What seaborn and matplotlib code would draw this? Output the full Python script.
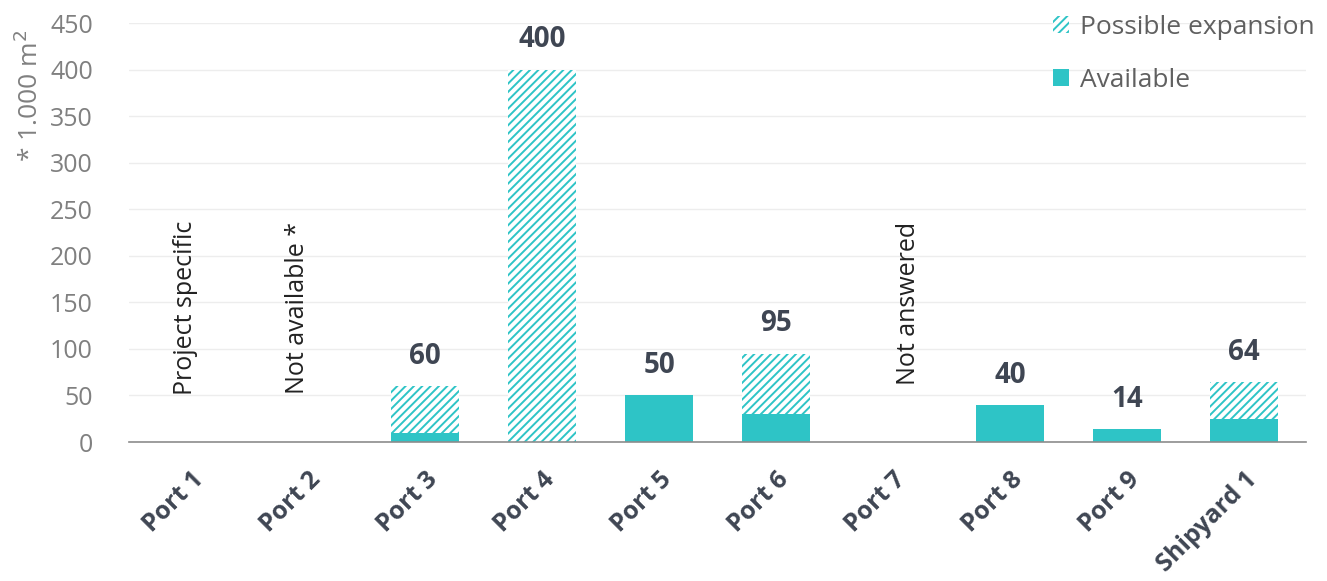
import matplotlib
matplotlib.use("Agg")
from matplotlib import pyplot as plt
from matplotlib.patches import Patch
import seaborn as sns
import pandas as pd

ports = ["Port 1", "Port 2", "Port 3", "Port 4", "Port 5", "Port 6",
         "Port 7", "Port 8", "Port 9", "Shipyard 1"]
available = [0, 0, 10, 0, 50, 30, 0, 40, 14, 25]
expansion = [0, 0, 50, 400, 0, 65, 0, 0, 0, 39]
notes = {"Port 1": "Project specific", "Port 2": "Not available *", "Port 7": "Not answered"}

TEAL = "#2EC4C6"
GRAY_TXT = "#808080"
DARK_TXT = "#3F4653"

df = pd.DataFrame({"port": ports, "available": available, "expansion": expansion})
df["total"] = df["available"] + df["expansion"]

sns.set_style("white")
plt.rcParams["font.family"] = ["Open Sans", "DejaVu Sans"]
plt.rcParams["hatch.linewidth"] = 1.4

fig = plt.figure(figsize=(13.27, 5.81), dpi=100)
ax = fig.add_axes([0.0972, 0.2392, 0.887, 0.721])

# total (hatched) first, then available on top of it
sns.barplot(data=df, x="port", y="total", ax=ax, color="white", width=0.58,
            edgecolor=TEAL, linewidth=0, hatch="////", saturation=1)
sns.barplot(data=df, x="port", y="available", ax=ax, color=TEAL, width=0.58,
            linewidth=0, saturation=1)

# note positions (x shift, bottom y) as laid out in the source
note_pos = {"Port 1": (-0.05, 50), "Port 2": (-0.09, 52), "Port 7": (0.13, 61)}
for i, row in df.iterrows():
    if row["total"] > 0:
        ax.annotate(f"{int(row['total'])}", (i, row["total"]), xytext=(0, 11),
                    textcoords="offset points", ha="center", va="bottom",
                    fontsize=20, fontweight="bold", color=DARK_TXT)
    if row["port"] in notes:
        dx, yb = note_pos[row["port"]]
        ax.text(i + dx, yb, notes[row["port"]], rotation=90, ha="center",
                va="bottom", fontsize=18, color="#222222")

ax.set_ylim(0, 450)
ax.set_xlim(-0.53, 9.53)
ax.set_yticks(range(0, 451, 50))
ax.grid(axis="y", color="#EDEDED", linewidth=1)
ax.set_axisbelow(True)
sns.despine(ax=ax, left=True)
ax.spines["bottom"].set_color("#8C8C8C")
ax.spines["bottom"].set_linewidth(1.2)
ax.tick_params(axis="y", length=0, labelsize=18, labelcolor=GRAY_TXT, pad=26)
ax.tick_params(axis="x", length=0, pad=18)
ax.set_xlabel("")
ax.set_ylabel("")
fig.text(30 / 1327, 1 - 30 / 581, "* 1.000 m$^2$", rotation=90, ha="center", va="top",
         fontsize=19, color=GRAY_TXT)
for lab in ax.get_xticklabels():
    lab.set_rotation(45)
    lab.set_ha("right")
    lab.set_rotation_mode("anchor")
    lab.set_fontsize(18)
    lab.set_fontweight("bold")
    lab.set_color(DARK_TXT)

handles = [Patch(facecolor="white", edgecolor=TEAL, linewidth=0, hatch="////", label="Possible expansion"),
           Patch(facecolor=TEAL, linewidth=0, label="Available")]
fig.legend(handles=handles, loc="upper left", bbox_to_anchor=(1053 / 1327, 1 - 15 / 581),
           frameon=False, borderpad=0, borderaxespad=0,
           fontsize=19, labelcolor="#606060", handlelength=0.62, handleheight=0.62,
           handletextpad=0.4, labelspacing=1.05)

plt.savefig("out.png", dpi=100)
